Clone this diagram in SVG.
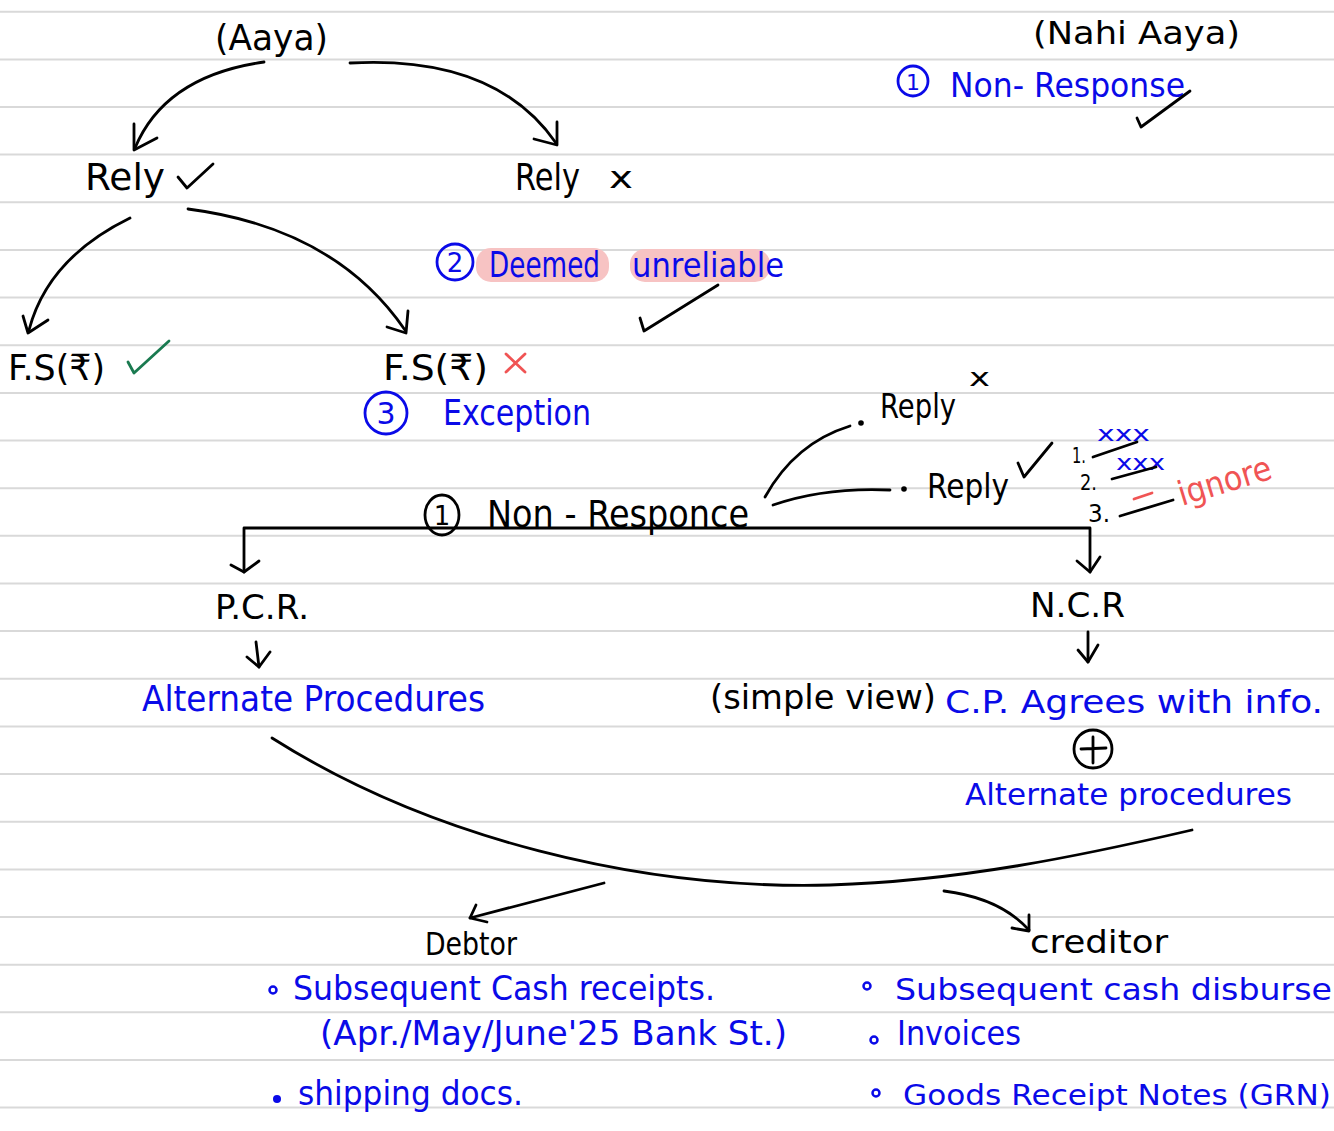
<svg xmlns="http://www.w3.org/2000/svg" width="1334" height="1131" viewBox="0 0 1334 1131">
  <defs>
    <style>
      .rule { stroke: #d9d9d9; stroke-width: 2; }
      .ink { fill: none; stroke: #000; stroke-width: 2.8; stroke-linecap: round; stroke-linejoin: round; }
      .inkb { fill: none; stroke: #0a0ae8; stroke-width: 2.8; stroke-linecap: round; stroke-linejoin: round; }
      .t { font-family: "DejaVu Sans", "Noto Sans", sans-serif; }
      .k { fill: #000; }
      .b { fill: #0a0ae8; }
      .r { fill: #f05454; }
      .hl { fill: #f7c3c3; }
    </style>
  </defs>

  <!-- paper -->
  <rect width="1334" height="1131" fill="#ffffff"/>
  <g id="ruling">
    <line class="rule" x1="0" y1="11.7" x2="1334" y2="11.7"/>
    <line class="rule" x1="0" y1="59.4" x2="1334" y2="59.4"/>
    <line class="rule" x1="0" y1="107" x2="1334" y2="107"/>
    <line class="rule" x1="0" y1="154.6" x2="1334" y2="154.6"/>
    <line class="rule" x1="0" y1="202.3" x2="1334" y2="202.3"/>
    <line class="rule" x1="0" y1="249.9" x2="1334" y2="249.9"/>
    <line class="rule" x1="0" y1="297.6" x2="1334" y2="297.6"/>
    <line class="rule" x1="0" y1="345.2" x2="1334" y2="345.2"/>
    <line class="rule" x1="0" y1="392.9" x2="1334" y2="392.9"/>
    <line class="rule" x1="0" y1="440.5" x2="1334" y2="440.5"/>
    <line class="rule" x1="0" y1="488.2" x2="1334" y2="488.2"/>
    <line class="rule" x1="0" y1="535.8" x2="1334" y2="535.8"/>
    <line class="rule" x1="0" y1="583.5" x2="1334" y2="583.5"/>
    <line class="rule" x1="0" y1="631.1" x2="1334" y2="631.1"/>
    <line class="rule" x1="0" y1="678.8" x2="1334" y2="678.8"/>
    <line class="rule" x1="0" y1="726.4" x2="1334" y2="726.4"/>
    <line class="rule" x1="0" y1="774.1" x2="1334" y2="774.1"/>
    <line class="rule" x1="0" y1="821.7" x2="1334" y2="821.7"/>
    <line class="rule" x1="0" y1="869.4" x2="1334" y2="869.4"/>
    <line class="rule" x1="0" y1="917" x2="1334" y2="917"/>
    <line class="rule" x1="0" y1="964.7" x2="1334" y2="964.7"/>
    <line class="rule" x1="0" y1="1012.3" x2="1334" y2="1012.3"/>
    <line class="rule" x1="0" y1="1060" x2="1334" y2="1060"/>
    <line class="rule" x1="0" y1="1107.6" x2="1334" y2="1107.6"/>
  </g>

  <!-- connectors -->
  <g id="connectors">
    <!-- Aaya -> Rely ✓ -->
    <path class="ink" d="M 264 62 Q 165 76 135 148"/>
    <path class="ink" d="M 134 124 L 134 150 L 157 138"/>
    <!-- Aaya -> Rely x -->
    <path class="ink" d="M 350 63 Q 495 55 556 143"/>
    <path class="ink" d="M 557 122 L 557 145 L 534 139"/>
    <!-- Rely ✓ -> F.S ✓ -->
    <path class="ink" d="M 130 218 Q 48 258 29 330"/>
    <path class="ink" d="M 23 316 L 28 333 L 48 320"/>
    <!-- Rely ✓ -> F.S x -->
    <path class="ink" d="M 188 209 Q 335 228 405 330"/>
    <path class="ink" d="M 408 311 L 406 333 L 387 327"/>
    <!-- Non-Responce -> Reply x / Reply ✓ -->
    <path class="ink" d="M 765 497 Q 795 443 850 426"/>
    <path class="ink" d="M 773 505 Q 825 487 890 490"/>
    <!-- Non-Responce split -->
    <path class="ink" d="M 244 572 L 244 528 L 1090 528 L 1090 572"/>
    <path class="ink" d="M 231 565 L 244 572 L 259 561"/>
    <path class="ink" d="M 1077 561 L 1090 572 L 1100 557"/>
    <!-- P.C.R. -> Alternate Procedures -->
    <path class="ink" d="M 256 642 L 259 667"/>
    <path class="ink" d="M 247 657 L 259 667 L 270 652"/>
    <!-- N.C.R -> C.P. agrees -->
    <path class="ink" d="M 1088 632 L 1088 662"/>
    <path class="ink" d="M 1078 650 L 1088 662 L 1098 645"/>
    <!-- both procedures joined -->
    <path class="ink" d="M 272 738 C 430 838 640 890 830 885 C 960 881 1080 856 1192 830"/>
    <!-- -> Debtor -->
    <path class="ink" d="M 604 883 L 470 918"/>
    <path class="ink" d="M 476 905 L 470 918 L 487 922"/>
    <!-- -> creditor -->
    <path class="ink" d="M 944 891 Q 1000 898 1029 930"/>
    <path class="ink" d="M 1029 915 L 1029 931 L 1012 928"/>
  </g>

  <!-- Aaya -->
  <g id="node-aaya">
    <text class="t k" x="215" y="50" font-size="36" textLength="113" lengthAdjust="spacingAndGlyphs">(Aaya)</text>
  </g>

  <!-- Nahi Aaya -->
  <g id="node-nahi-aaya">
    <text class="t k" x="1033" y="44" font-size="32" textLength="207" lengthAdjust="spacingAndGlyphs">(Nahi Aaya)</text>
  </g>

  <!-- 1 Non-Response (top) -->
  <g id="node-non-response-top">
    <circle class="inkb" cx="913" cy="81" r="15"/>
    <text class="t b" x="913" y="90" font-size="22" text-anchor="middle">1</text>
    <text class="t b" x="950" y="97" font-size="34" textLength="235" lengthAdjust="spacingAndGlyphs">Non- Response</text>
    <path class="ink" d="M 1137 118 L 1141 127 L 1190 91"/>
  </g>

  <!-- Rely ✓ -->
  <g id="node-rely-yes">
    <text class="t k" x="85" y="190" font-size="38" textLength="80" lengthAdjust="spacingAndGlyphs">Rely</text>
    <path class="ink" d="M 178 177 L 187 188 L 213 164"/>
  </g>

  <!-- Rely x -->
  <g id="node-rely-no">
    <text class="t k" x="515" y="190" font-size="38" textLength="65" lengthAdjust="spacingAndGlyphs">Rely</text>
    <text class="t k" x="609" y="188" font-size="30" textLength="24" lengthAdjust="spacingAndGlyphs">x</text>
  </g>

  <!-- 2 Deemed unreliable -->
  <g id="node-deemed">
    <rect class="hl" x="476" y="248" width="133" height="34" rx="15"/>
    <rect class="hl" x="630" y="249" width="140" height="33" rx="15"/>
    <circle class="inkb" cx="455" cy="262" r="18"/>
    <text class="t b" x="455" y="272" font-size="26" text-anchor="middle">2</text>
    <text class="t b" x="489" y="277" font-size="36" textLength="111" lengthAdjust="spacingAndGlyphs">Deemed</text>
    <text class="t b" x="632" y="277" font-size="34" textLength="152" lengthAdjust="spacingAndGlyphs">unreliable</text>
    <path class="ink" d="M 640 318 L 644 331 L 718 285"/>
  </g>

  <!-- F.S ✓ -->
  <g id="node-fs-yes">
    <text class="t k" x="8" y="380" font-size="36" textLength="97" lengthAdjust="spacingAndGlyphs">F.S(₹)</text>
    <path fill="none" stroke="#1a7a50" stroke-width="2.8" stroke-linecap="round" stroke-linejoin="round" d="M 128 362 L 134 373 L 169 341"/>
  </g>

  <!-- F.S x and 3 Exception -->
  <g id="node-fs-no">
    <text class="t k" x="383" y="380" font-size="36" textLength="105" lengthAdjust="spacingAndGlyphs">F.S(₹)</text>
    <path fill="none" stroke="#f05454" stroke-width="2.8" stroke-linecap="round" d="M 506 354 L 525 372 M 525 354 L 506 372"/>
    <circle class="inkb" cx="386" cy="413" r="21"/>
    <text class="t b" x="386" y="424" font-size="30" text-anchor="middle">3</text>
    <text class="t b" x="443" y="425" font-size="36" textLength="148" lengthAdjust="spacingAndGlyphs">Exception</text>
  </g>

  <!-- 1 Non - Responce (main) -->
  <g id="node-non-responce">
    <ellipse class="ink" cx="442" cy="515" rx="17" ry="20"/>
    <text class="t k" x="442" y="525" font-size="26" text-anchor="middle">1</text>
    <text class="t k" x="487" y="527" font-size="38" textLength="262" lengthAdjust="spacingAndGlyphs">Non - Responce</text>
  </g>

  <!-- Reply x -->
  <g id="node-reply-no">
    <circle cx="861" cy="423" r="2.8" fill="#000"/>
    <text class="t k" x="880" y="418" font-size="34" textLength="76" lengthAdjust="spacingAndGlyphs">Reply</text>
    <text class="t k" x="969" y="386" font-size="24" textLength="21" lengthAdjust="spacingAndGlyphs">x</text>
  </g>

  <!-- Reply ✓ with list -->
  <g id="node-reply-yes">
    <circle cx="904" cy="489" r="2.8" fill="#000"/>
    <text class="t k" x="927" y="498" font-size="34" textLength="82" lengthAdjust="spacingAndGlyphs">Reply</text>
    <path class="ink" d="M 1018 463 L 1024 477 L 1052 443"/>
    <text class="t k" x="1072" y="463" font-size="22" textLength="14" lengthAdjust="spacingAndGlyphs">1.</text>
    <text class="t b" x="1097" y="441" font-size="22" textLength="53" lengthAdjust="spacingAndGlyphs">xxx</text>
    <path class="ink" d="M 1093 457 L 1137 442"/>
    <text class="t k" x="1080" y="490" font-size="22" textLength="17" lengthAdjust="spacingAndGlyphs">2.</text>
    <text class="t b" x="1116" y="470" font-size="22" textLength="49" lengthAdjust="spacingAndGlyphs">xxx</text>
    <path class="ink" d="M 1112 479 L 1156 467"/>
    <text class="t k" x="1088" y="522" font-size="24" textLength="22" lengthAdjust="spacingAndGlyphs">3.</text>
    <path class="ink" d="M 1120 516 L 1173 500"/>
    <path fill="none" stroke="#f05454" stroke-width="2.8" stroke-linecap="round" d="M 1134 499 L 1152 493"/>
    <text class="t r" x="0" y="0" font-size="34" textLength="96" lengthAdjust="spacingAndGlyphs" transform="translate(1182 506) rotate(-17)">ignore</text>
  </g>

  <!-- P.C.R. -->
  <g id="node-pcr">
    <text class="t k" x="215" y="619" font-size="34" textLength="94" lengthAdjust="spacingAndGlyphs">P.C.R.</text>
  </g>

  <!-- Alternate Procedures (P.C.R.) -->
  <g id="node-alt-proc-left">
    <text class="t b" x="142" y="711" font-size="36" textLength="343" lengthAdjust="spacingAndGlyphs">Alternate Procedures</text>
  </g>

  <!-- N.C.R -->
  <g id="node-ncr">
    <text class="t k" x="1030" y="617" font-size="34" textLength="95" lengthAdjust="spacingAndGlyphs">N.C.R</text>
  </g>

  <!-- C.P. agrees + alternate procedures -->
  <g id="node-cp-agrees">
    <text class="t k" x="710" y="709" font-size="34" textLength="226" lengthAdjust="spacingAndGlyphs">(simple view)</text>
    <text class="t b" x="945" y="713" font-size="32" textLength="378" lengthAdjust="spacingAndGlyphs">C.P. Agrees with info.</text>
    <circle class="ink" cx="1093" cy="749" r="19"/>
    <path class="ink" d="M 1081 749 L 1106 748 M 1093 737 L 1093 763"/>
    <text class="t b" x="965" y="805" font-size="31" textLength="327" lengthAdjust="spacingAndGlyphs">Alternate procedures</text>
  </g>

  <!-- Debtor -->
  <g id="node-debtor">
    <text class="t k" x="425" y="955" font-size="32" textLength="92" lengthAdjust="spacingAndGlyphs">Debtor</text>
    <circle cx="273" cy="990" r="3.5" fill="none" stroke="#0a0ae8" stroke-width="2.5"/>
    <text class="t b" x="293" y="1000" font-size="34" textLength="422" lengthAdjust="spacingAndGlyphs">Subsequent Cash receipts.</text>
    <text class="t b" x="320" y="1045" font-size="34" textLength="467" lengthAdjust="spacingAndGlyphs">(Apr./May/June'25 Bank St.)</text>
    <circle cx="277" cy="1099" r="4" fill="#0a0ae8"/>
    <text class="t b" x="298" y="1105" font-size="34" textLength="225" lengthAdjust="spacingAndGlyphs">shipping docs.</text>
  </g>

  <!-- creditor -->
  <g id="node-creditor">
    <text class="t k" x="1030" y="953" font-size="32" textLength="138" lengthAdjust="spacingAndGlyphs">creditor</text>
    <circle cx="867" cy="986" r="3.5" fill="none" stroke="#0a0ae8" stroke-width="2.5"/>
    <text class="t b" x="895" y="1000" font-size="30" textLength="437" lengthAdjust="spacingAndGlyphs">Subsequent cash disburse</text>
    <circle cx="874" cy="1040" r="3.5" fill="none" stroke="#0a0ae8" stroke-width="2.5"/>
    <text class="t b" x="897" y="1045" font-size="34" textLength="124" lengthAdjust="spacingAndGlyphs">Invoices</text>
    <circle cx="876" cy="1093" r="3.5" fill="none" stroke="#0a0ae8" stroke-width="2.5"/>
    <text class="t b" x="903" y="1105" font-size="28" textLength="428" lengthAdjust="spacingAndGlyphs">Goods Receipt Notes (GRN)</text>
  </g>
</svg>
